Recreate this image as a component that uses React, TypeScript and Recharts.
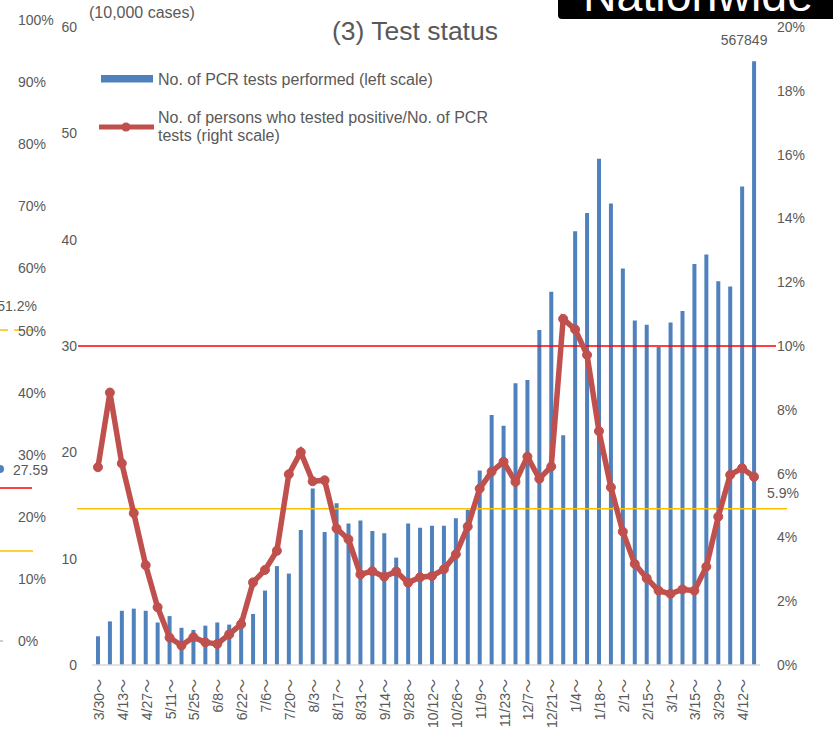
import React from 'react';
import { ComposedChart, Bar, Line, XAxis, YAxis, ReferenceLine, LabelList } from 'recharts';

// weekly categories (week starting)
const weeks = [
  '3/30～', '4/6～', '4/13～', '4/20～', '4/27～', '5/4～', '5/11～', '5/18～', '5/25～', '6/1～',
  '6/8～', '6/15～', '6/22～', '6/29～', '7/6～', '7/13～', '7/20～', '7/27～', '8/3～', '8/10～',
  '8/17～', '8/24～', '8/31～', '9/7～', '9/14～', '9/21～', '9/28～', '10/5～', '10/12～', '10/19～',
  '10/26～', '11/2～', '11/9～', '11/16～', '11/23～', '11/30～', '12/7～', '12/14～', '12/21～', '12/28～',
  '1/4～', '1/11～', '1/18～', '1/25～', '2/1～', '2/8～', '2/15～', '2/22～', '3/1～', '3/8～',
  '3/15～', '3/22～', '3/29～', '4/5～', '4/12～', '4/19～',
];

// No. of PCR tests performed (10,000 cases)
const pcrTests = [
  2.7, 4.1, 5.1, 5.3, 5.1, 4.0, 4.6, 3.5, 3.3, 3.7,
  4.0, 3.8, 4.4, 4.8, 7.0, 9.3, 8.6, 12.7, 16.6, 12.5,
  15.2, 13.3, 13.6, 12.6, 12.4, 10.1, 13.3, 12.9, 13.1, 13.1,
  13.8, 14.6, 18.3, 23.5, 22.5, 26.5, 26.8, 31.5, 35.1, 21.6,
  40.8, 42.5, 47.6, 43.4, 37.3, 32.4, 32.0, 29.9, 32.2, 33.3,
  37.7, 38.6, 36.1, 35.6, 45.0, 56.7849,
];

// positives / PCR tests (%)
const positiveRate = [
  6.2, 8.54, 6.32, 4.76, 3.13, 1.81, 0.86, 0.61, 0.87, 0.71,
  0.66, 0.96, 1.28, 2.59, 2.98, 3.58, 5.98, 6.67, 5.76, 5.79,
  4.28, 3.94, 2.84, 2.94, 2.77, 2.93, 2.58, 2.75, 2.79, 3.0,
  3.47, 4.34, 5.53, 6.06, 6.37, 5.74, 6.53, 5.84, 6.22, 10.85,
  10.52, 9.72, 7.33, 5.57, 4.18, 3.17, 2.72, 2.33, 2.23, 2.37,
  2.33, 3.08, 4.65, 5.96, 6.17, 5.9,
];

const leftTicks = [0, 10, 20, 30, 40, 50, 60];
const rightTicks = [0, 2, 4, 6, 8, 10, 12, 14, 16, 18, 20];
const redLineRate = 10;
const yellowLineRate = 4.9;

// right-hand axis of the neighbouring panel (cropped at the left edge)
const sideTicks = ['100%', '90%', '80%', '70%', '60%', '50%', '40%', '30%', '20%', '10%', '0%'];

const data = weeks.map((week, i) => ({ week, tests: pcrTests[i], rate: positiveRate[i] }));

const FONT = '"Liberation Sans", Arial, "Noto Sans CJK JP", sans-serif';
const GREY = '#595959';
const BLUE = '#4F81BD';
const RED = '#C0504D';

const DateTick = (props: any) => {
  const { x, y, payload } = props;
  return (
    <text
      x={x + 1}
      y={y}
      transform={`rotate(-90, ${x + 1}, ${y})`}
      textAnchor="end"
      dominantBaseline="central"
      fontSize={14}
      fill={GREY}
      fontFamily={FONT}
    >
      {payload.value}
    </text>
  );
};

// horizontal guide that runs a bit past the plot on both sides
const extendedLine = (left: number, right: number, color: string) => (p: any) => (
  <line
    x1={Math.min(p.x1, p.x2) - left}
    x2={Math.max(p.x1, p.x2) + right}
    y1={p.y1}
    y2={p.y2}
    stroke={color}
    strokeWidth={1.5}
  />
);

const lastIndex = data.length - 1;

const TestsLabel = (p: any) =>
  p.index === lastIndex ? (
    <text x={p.x + p.width / 2 - 10} y={p.y - 21} textAnchor="middle" dominantBaseline="central" fontSize={14} fill={GREY} fontFamily={FONT}>
      {Math.round(p.value * 10000)}
    </text>
  ) : null;

const RateLabel = (p: any) =>
  p.index === lastIndex ? (
    <text x={p.x + 13} y={p.y + 16} dominantBaseline="central" fontSize={14} fill={GREY} fontFamily={FONT}>
      {`${Number(p.value).toFixed(1)}%`}
    </text>
  ) : null;

const App = () => {
  return (
    <div style={{ position: 'absolute', left: 0, top: 0, width: 833, height: 729, background: '#fff', fontFamily: FONT }}>
      <ComposedChart width={833} height={729} data={data} margin={{ top: 27, right: 0, bottom: 0, left: 0 }}>
        <XAxis
          dataKey="week"
          interval={1}
          height={64}
          tickLine={false}
          tickSize={0}
          tickMargin={14}
          axisLine={{ stroke: '#D9D9D9', strokeWidth: 1.5 }}
          tick={<DateTick />}
        />
        <YAxis
          yAxisId="left"
          width={92}
          domain={[0, 60]}
          ticks={leftTicks}
          axisLine={false}
          tickLine={false}
          tickSize={0}
          tickMargin={15}
          tick={{ fontSize: 14, fill: GREY, fontFamily: FONT }}
        />
        <YAxis
          yAxisId="right"
          orientation="right"
          width={73}
          domain={[0, 20]}
          ticks={rightTicks}
          axisLine={false}
          tickLine={false}
          tickSize={0}
          tickMargin={17}
          tickFormatter={(v: number) => `${v}%`}
          tick={{ fontSize: 14, fill: GREY, fontFamily: FONT }}
        />
        <Bar yAxisId="left" dataKey="tests" fill={BLUE} barSize={4} isAnimationActive={false}>
          <LabelList dataKey="tests" content={<TestsLabel />} />
        </Bar>
        <ReferenceLine yAxisId="right" y={redLineRate} ifOverflow="visible" shape={extendedLine(14, 16, '#FF0000')} />
        <ReferenceLine yAxisId="right" y={yellowLineRate} ifOverflow="visible" shape={extendedLine(15, 27, '#FFC000')} />
        <Line
          yAxisId="right"
          type="linear"
          dataKey="rate"
          stroke={RED}
          strokeWidth={5.5}
          dot={{ r: 4.5, fill: RED, stroke: RED, strokeWidth: 1 }}
          isAnimationActive={false}
        >
          <LabelList dataKey="rate" content={<RateLabel />} />
        </Line>
      </ComposedChart>

      <svg width={833} height={729} style={{ position: 'absolute', left: 0, top: 0, pointerEvents: 'none' }} fontFamily={FONT}>
        {/* neighbouring panel fragment */}
        <line x1={0} x2={34} y1={330} y2={330} stroke="#FFC000" strokeWidth={1.5} strokeDasharray="8 6" />
        {sideTicks.map((t, i) => (
          <text key={t} x={18} y={20 + i * 62.1} dominantBaseline="central" fontSize={14} fill={GREY}>
            {t}
          </text>
        ))}
        <text x={37} y={306} textAnchor="end" dominantBaseline="central" fontSize={14} fill={GREY}>51.2%</text>
        <circle cx={0} cy={469} r={4} fill={BLUE} />
        <text x={13} y={470} dominantBaseline="central" fontSize={14} fill={GREY}>27.59</text>
        <line x1={0} x2={32} y1={488} y2={488} stroke="#FF0000" strokeWidth={1.5} />
        <line x1={0} x2={33} y1={551} y2={551} stroke="#FFC000" strokeWidth={1.5} />
        <line x1={0} x2={3} y1={641} y2={641} stroke="#BFBFBF" strokeWidth={1.5} />

        {/* title and unit */}
        <text x={415} y={31} textAnchor="middle" dominantBaseline="central" fontSize={26.5} fill={GREY}>(3) Test status</text>
        <text x={89} y={12.5} dominantBaseline="central" fontSize={16} fill={GREY}>(10,000 cases)</text>

        {/* legend */}
        <rect x={101} y={75} width={52} height={7.5} fill={BLUE} />
        <text x={158} y={79} dominantBaseline="central" fontSize={16} fill={GREY}>No. of PCR tests performed (left scale)</text>
        <line x1={99} x2={154} y1={127} y2={127} stroke={RED} strokeWidth={5} />
        <circle cx={126} cy={127} r={4.5} fill={RED} />
        <text x={158} y={117} dominantBaseline="central" fontSize={16} fill={GREY}>No. of persons who tested positive/No. of PCR</text>
        <text x={158} y={135} dominantBaseline="central" fontSize={16} fill={GREY}>tests (right scale)</text>

        {/* region tag */}
        <rect x={558} y={-10} width={290} height={29} rx={4} fill="#000" />
        <text x={698} y={11} textAnchor="middle" fontSize={46.5} fill="#fff">Nationwide</text>
      </svg>
    </div>
  );
};

export default App;
